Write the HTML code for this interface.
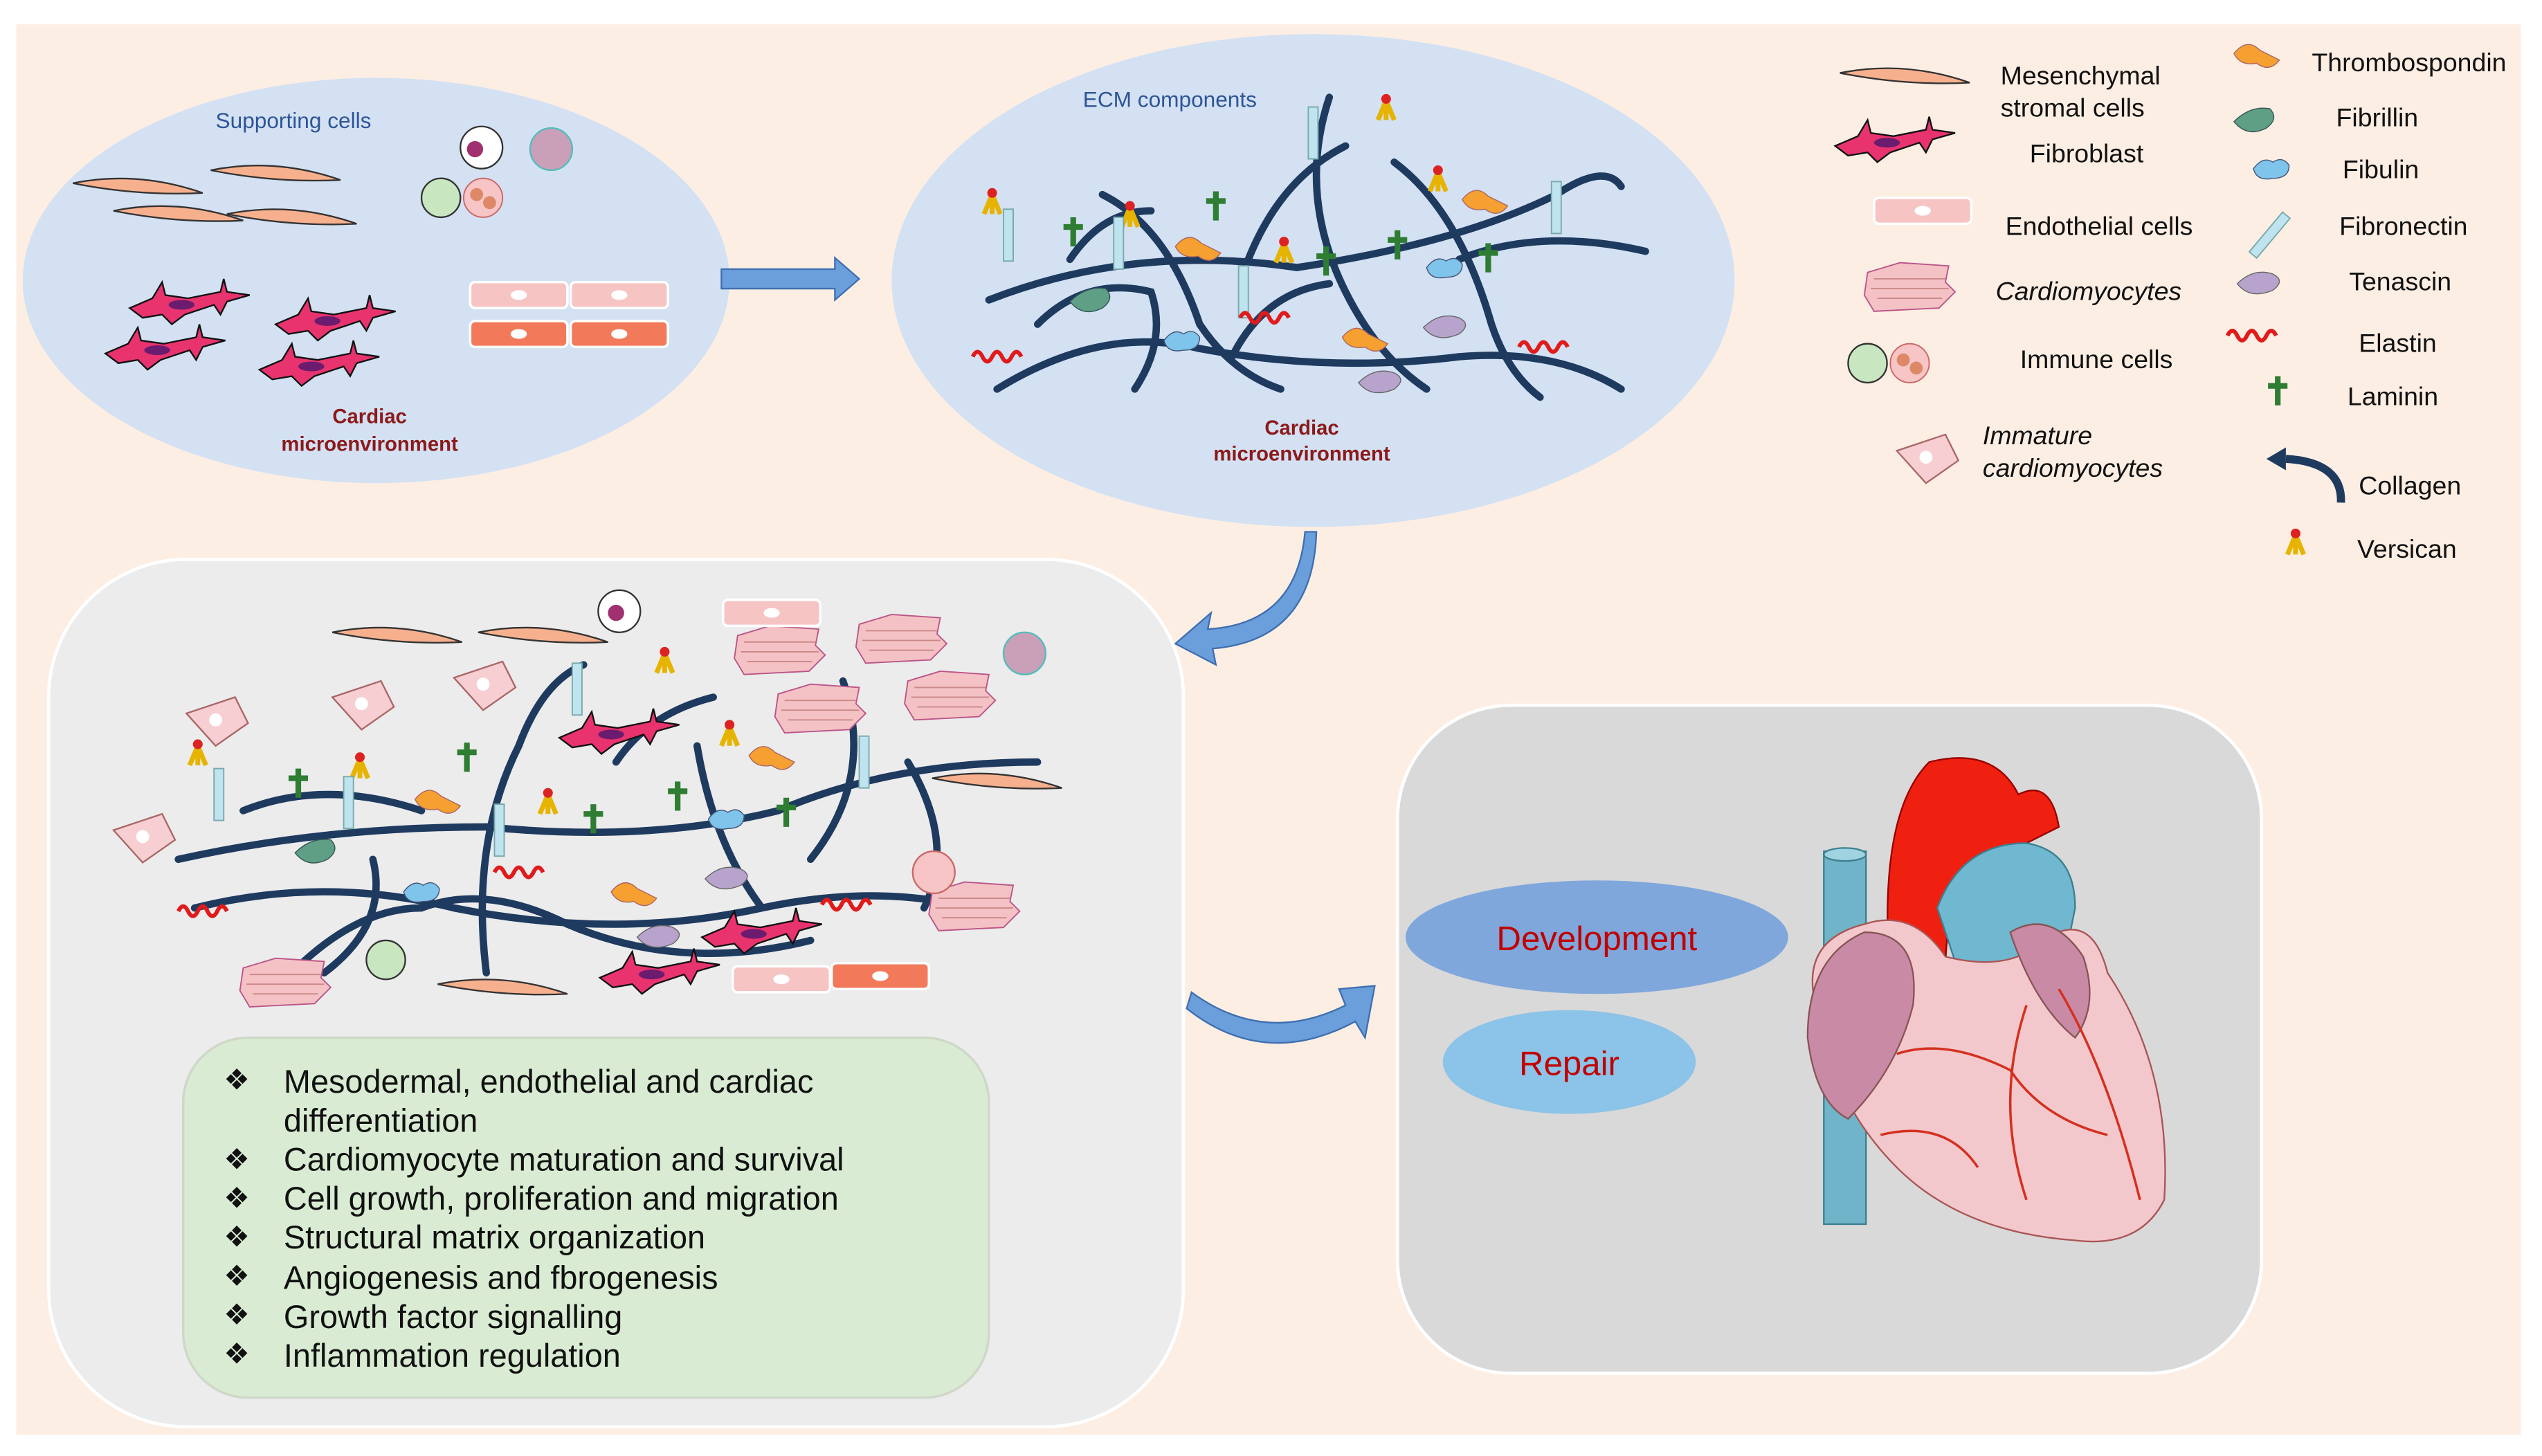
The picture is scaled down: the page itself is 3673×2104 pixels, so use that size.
<!DOCTYPE html>
<html><head><meta charset="utf-8"><style>
html,body{margin:0;padding:0;background:#fff}
svg{display:block}
text{font-family:"Liberation Sans",Arial,sans-serif}
</style></head><body>
<svg width="3673" height="2104" viewBox="0 0 1568 898" preserveAspectRatio="none" xmlns="http://www.w3.org/2000/svg">
<defs>
<g id="fib"><path d="M0,0 l14,-6 l6,-10 l2,8 l14,2 l20,-4 l2,-8 l2,8 l14,2 l-14,4 l-4,8 l-4,-6 l-18,6 l-8,6 l-6,-6 l-12,2z" fill="#e8336f" stroke="#111" stroke-width="1"/><ellipse cx="32" cy="-2" rx="8" ry="3" fill="#6b1c6e"/></g>
<g id="msc"><path d="M0,0 Q40,-8 80,6 Q40,8 0,0z" fill="#f7b08e" stroke="#333" stroke-width="1"/></g>
<g id="cm"><path d="M0,0 l20,-6 l30,2 l-2,10 l6,6 l-10,10 l-40,2 l-6,-10z" fill="#f4c2c4" stroke="#b58" stroke-width="0.8"/><path d="M4,4 h44 M2,10 h48 M6,16 h40" stroke="#c88" stroke-width="0.8"/></g>
<g id="ver"><path d="M-5,12 L0,0 L5,12 M0,2 L0,12" stroke="#e6b400" stroke-width="3" fill="none"/><circle cx="0" cy="-1" r="3" fill="#d22"/></g>
<g id="lam"><path d="M0,-8 V10 M-6,-2 H6" stroke="#2e7d32" stroke-width="3.5"/></g>
<g id="fn"><rect x="-3" y="-16" width="6" height="32" fill="#bfe3ef" stroke="#7aa" stroke-width="0.8"/></g>
<g id="th"><path d="M0,0 q8,-10 16,-2 q8,4 12,6 q-6,8 -14,2 q-10,2 -14,-6z" fill="#f5a030" stroke="#a66" stroke-width="0.6"/></g>
<g id="fbl"><path d="M0,0 q6,-8 12,-4 q6,-4 10,2 q0,8 -10,8 q-10,2 -12,-6z" fill="#7fc4ea" stroke="#457" stroke-width="0.6"/></g>
<g id="ten"><path d="M0,0 q10,-10 22,-6 q8,4 0,10 q-14,6 -22,-4z" fill="#b8a3cc" stroke="#666" stroke-width="0.6"/></g>
<g id="fbr"><path d="M0,0 q10,-10 22,-8 q6,6 -2,12 q-12,6 -20,-4z" fill="#5f9f86" stroke="#355" stroke-width="0.6"/></g>
<g id="ela"><path d="M0,0 q3,-6 6,0 q3,6 6,0 q3,-6 6,0 q3,6 6,0 q3,-6 6,0" stroke="#e01b1b" stroke-width="2.5" fill="none"/></g>
<g id="endo"><rect x="0" y="0" width="60" height="16" rx="3" fill="#f7c4c4" stroke="#fff" stroke-width="1.5"/><ellipse cx="30" cy="8" rx="5" ry="3" fill="#fff"/></g>
<g id="endo2"><rect x="0" y="0" width="60" height="16" rx="3" fill="#f27a5a" stroke="#fff" stroke-width="1.5"/><ellipse cx="30" cy="8" rx="5" ry="3" fill="#fff"/></g>
<g id="imm"><circle r="12" fill="#c8e6c0" stroke="#333" stroke-width="1"/><circle cx="26" r="12" fill="#f7c5c5" stroke="#c66" stroke-width="0.8"/><circle cx="22" cy="-2" r="4" fill="#d86"/><circle cx="30" cy="3" r="4" fill="#d86"/></g>
<g id="imc"><path d="M0,0 l30,-10 l8,16 l-20,14z" fill="#f7cfd3" stroke="#a66" stroke-width="1"/><circle cx="18" cy="4" r="4" fill="#fff"/></g>
</defs>
<rect x="10" y="15" width="1545" height="870" fill="#fdeee4"/>
<ellipse cx="232" cy="173" rx="218" ry="125" fill="#d3e1f3"/>
<ellipse cx="810" cy="173" rx="260" ry="152" fill="#d3e1f3"/>
<text x="133" y="79" font-size="13.5" fill="#2e5597">Supporting cells</text>
<text x="668" y="66" font-size="13.5" fill="#2e5597">ECM components</text>
<text x="228" y="261" font-size="12.5" font-weight="bold" fill="#8b1a1a" text-anchor="middle">Cardiac</text>
<text x="228" y="278" font-size="12.5" font-weight="bold" fill="#8b1a1a" text-anchor="middle">microenvironment</text>
<text x="803" y="268" font-size="12.5" font-weight="bold" fill="#8b1a1a" text-anchor="middle">Cardiac</text>
<text x="803" y="284" font-size="12.5" font-weight="bold" fill="#8b1a1a" text-anchor="middle">microenvironment</text>
<use href="#msc" x="45" y="113"/><use href="#msc" x="130" y="105"/><use href="#msc" x="70" y="130"/><use href="#msc" x="140" y="132"/>
<circle cx="297" cy="91" r="13" fill="#fff" stroke="#333"/><circle cx="293" cy="92" r="5" fill="#a03070"/><circle cx="340" cy="92" r="13" fill="#c9a0b8" stroke="#5bb"/>
<use href="#imm" x="272" y="122"/>
<use href="#fib" x="80" y="190"/><use href="#fib" x="170" y="200"/><use href="#fib" x="65" y="218"/><use href="#fib" x="160" y="228"/>
<use href="#endo" x="290" y="174"/><use href="#endo" x="352" y="174"/><use href="#endo2" x="290" y="198"/><use href="#endo2" x="352" y="198"/>
<path d="M445,166 H515 V159 L530,172 L515,185 V178 H445z" fill="#6a9fdc" stroke="#3f6fb0"/>
<g stroke="#1e3a5f" stroke-width="4.5" fill="none" stroke-linecap="round">
<path d="M610,185 Q700,150 800,165 Q900,150 960,120 Q990,100 1000,115"/>
<path d="M615,240 Q680,200 740,215 Q820,230 900,220 Q960,215 1000,240"/>
<path d="M680,120 Q720,140 740,200 Q760,230 790,240"/>
<path d="M820,60 Q800,120 830,180 Q850,220 880,240"/>
<path d="M860,100 Q900,130 920,200 Q930,230 950,245"/>
<path d="M640,200 Q670,170 710,180 Q720,210 700,240"/>
<path d="M770,160 Q790,110 830,90"/><path d="M900,160 Q950,140 1015,155"/>
<path d="M660,160 Q680,130 710,130"/><path d="M760,220 Q780,180 820,175"/>
</g>
<use href="#ver" x="612" y="120"/><use href="#ver" x="697" y="128"/><use href="#ver" x="855" y="62"/><use href="#ver" x="887" y="106"/><use href="#ver" x="792" y="150"/>
<use href="#lam" x="662" y="142"/><use href="#lam" x="750" y="126"/><use href="#lam" x="818" y="160"/><use href="#lam" x="862" y="150"/><use href="#lam" x="918" y="158"/>
<use href="#fn" x="622" y="145"/><use href="#fn" x="690" y="150"/><use href="#fn" x="810" y="82"/><use href="#fn" x="960" y="128"/><use href="#fn" x="767" y="180"/>
<use href="#th" x="725" y="152"/><use href="#th" x="902" y="123"/><use href="#th" x="828" y="208"/>
<use href="#fbl" x="718" y="210"/><use href="#fbl" x="880" y="165"/>
<use href="#ten" x="878" y="202"/><use href="#ten" x="838" y="236"/>
<use href="#fbr" x="660" y="186"/>
<use href="#ela" x="600" y="220"/><use href="#ela" x="765" y="196"/><use href="#ela" x="937" y="214"/>
<g font-size="16" fill="#111">
<use href="#msc" x="1135" y="45"/><text x="1234" y="52">Mesenchymal</text><text x="1234" y="72">stromal cells</text>
<use href="#fib" x="1132" y="90"/><text x="1252" y="100">Fibroblast</text>
<use href="#endo" x="1156" y="122"/><text x="1237" y="145">Endothelial cells</text>
<use href="#cm" x="1152" y="168"/><text x="1231" y="185" font-style="italic">Cardiomyocytes</text>
<use href="#imm" x="1152" y="224"/><text x="1246" y="227">Immune cells</text>
<use href="#imc" x="1170" y="278"/><text x="1223" y="274" font-style="italic">Immature</text><text x="1223" y="294" font-style="italic">cardiomyocytes</text>
<use href="#th" x="1378" y="33"/><text x="1426" y="44">Thrombospondin</text>
<use href="#fbr" x="1378" y="75"/><text x="1441" y="78">Fibrillin</text>
<use href="#fbl" x="1390" y="104"/><text x="1445" y="110">Fibulin</text>
<g transform="translate(1400,145) rotate(40)"><use href="#fn"/></g><text x="1443" y="145">Fibronectin</text>
<use href="#ten" x="1380" y="175"/><text x="1449" y="179">Tenascin</text>
<use href="#ela" x="1374" y="207"/><text x="1455" y="217">Elastin</text>
<use href="#lam" x="1405" y="240"/><text x="1448" y="250">Laminin</text>
<path d="M1444,310 Q1445,285 1410,283" stroke="#1e3a5f" stroke-width="5" fill="none"/><path d="M1398,283 l12,-7 v14z" fill="#1e3a5f"/><text x="1455" y="305">Collagen</text>
<use href="#ver" x="1416" y="330"/><text x="1454" y="344">Versican</text>
</g>
<path d="M805,328 Q800,385 745,388 L747,378 L725,397 L750,410 L748,400 Q810,395 812,328z" fill="#6a9fdc" stroke="#3f6fb0"/>
<rect x="30" y="345" width="700" height="535" rx="85" fill="#ececec" stroke="#fff" stroke-width="2"/>
<g stroke="#1e3a5f" stroke-width="4.5" fill="none" stroke-linecap="round">
<path d="M110,530 Q200,510 300,510 Q400,520 480,500 Q550,470 640,470"/>
<path d="M120,560 Q200,540 280,560 Q380,580 470,560 Q540,545 600,560"/>
<path d="M180,600 Q220,560 260,560 Q300,545 350,570 Q420,600 500,580"/>
<path d="M300,600 Q290,520 320,460 Q335,420 360,410"/>
<path d="M430,460 Q440,520 470,560"/><path d="M520,420 Q540,480 500,530"/>
<path d="M200,600 Q240,570 230,530"/><path d="M560,470 Q590,520 570,560"/>
<path d="M150,500 Q200,480 260,500"/><path d="M380,470 Q400,440 440,430"/>
</g>
<use href="#imc" x="70" y="512"/><use href="#imc" x="115" y="440"/><use href="#imc" x="205" y="430"/><use href="#imc" x="280" y="418"/>
<use href="#msc" x="205" y="390"/><use href="#msc" x="295" y="390"/><use href="#msc" x="575" y="480"/><use href="#msc" x="270" y="607"/>
<use href="#cm" x="455" y="392"/><use href="#cm" x="530" y="385"/><use href="#cm" x="480" y="428"/><use href="#cm" x="560" y="420"/><use href="#cm" x="150" y="597"/><use href="#cm" x="575" y="550"/>
<circle cx="382" cy="377" r="13" fill="#fff" stroke="#333"/><circle cx="380" cy="378" r="5" fill="#a03070"/><circle cx="632" cy="403" r="13" fill="#c9a0b8" stroke="#5bb"/><circle cx="576" cy="538" r="13" fill="#f7c5c5" stroke="#c66"/><circle cx="238" cy="592" r="12" fill="#c8e6c0" stroke="#333"/>
<use href="#endo" x="446" y="370"/><use href="#endo" x="452" y="596"/><use href="#endo2" x="513" y="594"/>
<use href="#fib" x="345" y="455"/><use href="#fib" x="433" y="578"/><use href="#fib" x="370" y="603"/>
<use href="#ver" x="122" y="460"/><use href="#ver" x="222" y="468"/><use href="#ver" x="338" y="490"/><use href="#ver" x="410" y="403"/><use href="#ver" x="450" y="448"/>
<use href="#lam" x="184" y="482"/><use href="#lam" x="288" y="466"/><use href="#lam" x="366" y="504"/><use href="#lam" x="418" y="490"/><use href="#lam" x="485" y="500"/>
<use href="#fn" x="135" y="490"/><use href="#fn" x="215" y="495"/><use href="#fn" x="356" y="425"/><use href="#fn" x="308" y="512"/><use href="#fn" x="533" y="470"/>
<use href="#th" x="256" y="493"/><use href="#th" x="462" y="466"/><use href="#th" x="377" y="550"/>
<use href="#fbl" x="437" y="505"/><use href="#fbl" x="249" y="550"/>
<use href="#ten" x="435" y="542"/><use href="#ten" x="393" y="578"/>
<use href="#fbr" x="182" y="526"/>
<use href="#ela" x="110" y="562"/><use href="#ela" x="305" y="538"/><use href="#ela" x="507" y="558"/>
<rect x="113" y="640" width="497" height="222" rx="40" fill="#d9ecd3" stroke="#cfd8c8" stroke-width="1.5"/>
<g font-size="20" fill="#111">
<text x="138" y="672" font-size="18">❖</text><text x="175" y="674">Mesodermal, endothelial and cardiac</text>
<text x="175" y="698">differentiation</text>
<text x="138" y="721" font-size="18">❖</text><text x="175" y="722">Cardiomyocyte maturation and survival</text>
<text x="138" y="745" font-size="18">❖</text><text x="175" y="746">Cell growth, proliferation and migration</text>
<text x="138" y="769" font-size="18">❖</text><text x="175" y="770">Structural matrix organization</text>
<text x="138" y="793" font-size="18">❖</text><text x="175" y="795">Angiogenesis and fbrogenesis</text>
<text x="138" y="817" font-size="18">❖</text><text x="175" y="819">Growth factor signalling</text>
<text x="138" y="841" font-size="18">❖</text><text x="175" y="843">Inflammation regulation</text>
</g>
<path d="M735,612 Q780,645 830,620 L826,610 L848,608 L842,640 L836,630 Q780,660 732,622z" fill="#6a9fdc" stroke="#3f6fb0"/>
<rect x="862" y="435" width="533" height="412" rx="70" fill="#d9d9d9" stroke="#fff" stroke-width="2"/>
<ellipse cx="985" cy="578" rx="118" ry="35" fill="#7fa7dc"/>
<text x="985" y="586" font-size="21" fill="#c00000" text-anchor="middle">Development</text>
<ellipse cx="968" cy="655" rx="78" ry="32" fill="#8cc3e8"/>
<text x="968" y="663" font-size="21" fill="#c00000" text-anchor="middle">Repair</text>
<rect x="1125" y="525" width="26" height="230" fill="#6fb4c8" stroke="#3d7f90"/>
<ellipse cx="1138" cy="527" rx="13" ry="4" fill="#9fd3e0" stroke="#3d7f90"/>
<path d="M1165,590 Q1160,500 1190,470 Q1230,460 1245,490 Q1265,480 1270,510 L1230,530 Q1200,540 1200,600z" fill="#f02010" stroke="#900" stroke-width="1"/>
<path d="M1195,560 Q1210,520 1250,520 Q1280,525 1280,560 L1270,610 L1215,620z" fill="#6fb8d0" stroke="#3d7f90"/>
<path d="M1120,620 Q1110,580 1150,570 Q1180,560 1200,590 Q1240,600 1260,580 Q1290,560 1300,600 Q1340,660 1335,740 Q1320,770 1280,765 Q1210,760 1170,720 Q1130,680 1120,620z" fill="#f3c8cc" stroke="#a55" stroke-width="1"/>
<path d="M1115,640 Q1115,590 1150,575 Q1185,575 1180,620 Q1170,660 1140,690 Q1120,680 1115,640z" fill="#c98aa6" stroke="#855" stroke-width="1"/>
<path d="M1240,575 Q1265,560 1285,590 Q1295,620 1280,640 Q1255,620 1240,575z" fill="#c98aa6" stroke="#855"/>
<g stroke="#d43020" stroke-width="1.5" fill="none">
<path d="M1270,610 Q1300,660 1320,740"/><path d="M1250,620 Q1230,680 1250,740"/><path d="M1170,650 Q1200,640 1240,660 Q1260,690 1300,700"/><path d="M1160,700 Q1200,690 1220,720"/>
</g>
</svg>
</body></html>
